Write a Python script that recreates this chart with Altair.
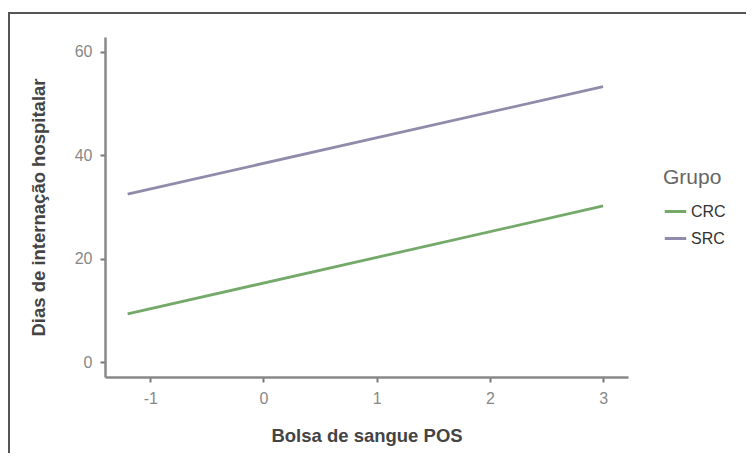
import altair as alt
import pandas as pd

x_vals = [-1.2, 3.0]
crc_vals = [9.3, 30.2]
src_vals = [32.5, 53.3]
groups = ["CRC", "SRC"]
colors = ["#74a96a", "#8f8cab"]

rows = []
for g, vals in zip(groups, [crc_vals, src_vals]):
    for xv, yv in zip(x_vals, vals):
        rows.append({"x": xv, "y": yv, "Grupo": g})
df = pd.DataFrame(rows)

font = "Liberation Sans"

axis_common = dict(grid=False, domainColor="#888", domainWidth=2.5, tickColor="#777", tickWidth=2,
                   tickSize=5, labelColor="#888", labelFontSize=16, labelFont=font,
                   titleFont=font, titleFontSize=18.5, titleFontWeight="bold", titleColor="#444",
                   labelExpr="'' + datum.value")

lines = alt.Chart(df).mark_line(strokeWidth=2.8).encode(
    x=alt.X("x:Q", scale=alt.Scale(domain=[-1.4, 3.22], nice=False, zero=False),
            axis=alt.Axis(values=[-1, 0, 1, 2, 3], title="Bolsa de sangue POS", titlePadding=20,
                          labelPadding=8, **axis_common)),
    y=alt.Y("y:Q", scale=alt.Scale(domain=[-2.9, 62.9], nice=False, zero=False),
            axis=alt.Axis(values=[0, 20, 40, 60], title="Dias de internação hospitalar", titlePadding=26,
                          labelPadding=8, **axis_common)),
    color=alt.Color("Grupo:N", scale=alt.Scale(domain=groups, range=colors),
                    legend=alt.Legend(orient="none", legendX=558, legendY=130,
                                      symbolType="stroke", symbolStrokeWidth=3, symbolSize=460,
                                      titleFontSize=21, titleFontWeight="normal", titleColor="#666",
                                      labelFontSize=16, labelColor="#333", titleFont=font, labelFont=font,
                                      rowPadding=6, titlePadding=11, labelOffset=3)),
)

frame = alt.Chart(pd.DataFrame({"a": [0]})).mark_rect(fill=None, stroke="#555", strokeWidth=2).encode(
    x=alt.value(-96), x2=alt.value(700), y=alt.value(-24), y2=alt.value(520)
)

chart = alt.layer(frame, lines).properties(
    width=523, height=340,
    autosize=alt.AutoSizeParams(type="none"),
    padding={"left": 97, "top": 29, "right": 118, "bottom": 76},
).configure_view(stroke=None)

chart.save("out.html", embed_options={"renderer": "svg", "actions": False})
